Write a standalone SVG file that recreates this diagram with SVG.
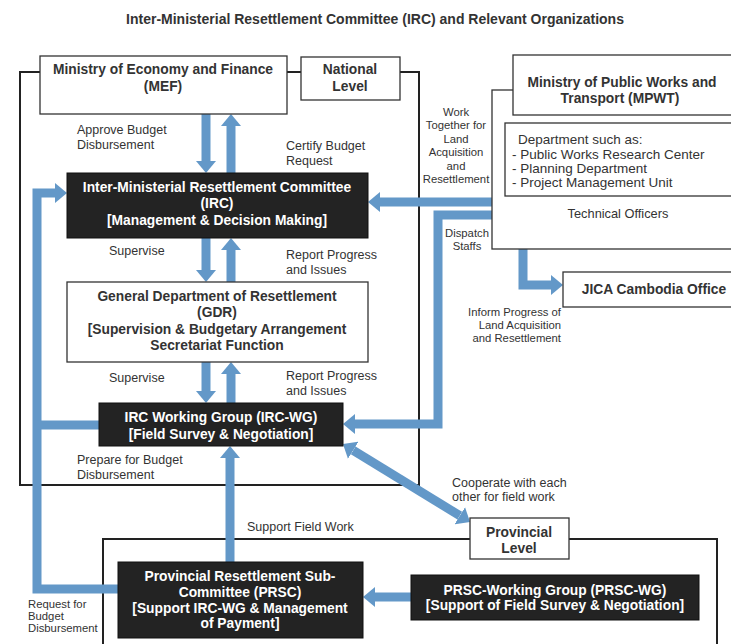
<svg xmlns="http://www.w3.org/2000/svg" width="731" height="644" viewBox="0 0 731 644">
<defs>
<style>
text{font-family:"Liberation Sans",Arial,sans-serif;}
.t{font-size:14px;font-weight:bold;fill:#333;text-anchor:middle;}
.b{font-size:13.8px;font-weight:bold;fill:#333;text-anchor:middle;}
.w{font-size:13.8px;font-weight:bold;fill:#fff;text-anchor:middle;}
.l{font-size:12.5px;fill:#333;}
.s{font-size:11.3px;fill:#333;}
.wb{fill:#fff;stroke:#333;stroke-width:1.3;}
.db{fill:#232323;stroke:#111;stroke-width:1;}
.fr{fill:none;stroke:#222;stroke-width:2;}
.c{fill:none;stroke:#6398c8;stroke-width:9;}
</style>
<marker id="ah" markerUnits="userSpaceOnUse" viewBox="0 0 12 20" refX="0" refY="10" markerWidth="12" markerHeight="20" orient="auto-start-reverse">
<path d="M0,0 L12,10 L0,20 z" fill="#6398c8"/>
</marker>
</defs>
<rect width="731" height="644" fill="#fff"/>
<text class="t" x="375" y="24">Inter-Ministerial Resettlement Committee (IRC) and Relevant Organizations</text>

<g id="frames">
<path class="fr" d="M40,72 L20,72 L20,485 L419,485 L419,72 L400,72 M287,72 L301,72"/>
<path class="fr" d="M470,539 L103,539 L103,644 M569,539 L717,539 L717,644"/>
</g>

<g id="connectors">
<path class="c" d="M206,114 L206,161" marker-end="url(#ah)"/>
<path class="c" d="M231,173 L231,126" marker-end="url(#ah)"/>
<path class="c" d="M206,238 L206,270" marker-end="url(#ah)"/>
<path class="c" d="M231,282 L231,250" marker-end="url(#ah)"/>
<path class="c" d="M206,362 L206,391" marker-end="url(#ah)"/>
<path class="c" d="M231,403 L231,374" marker-end="url(#ah)"/>
<path class="c" d="M118,589 L37,589 L37,193 L55,193" marker-end="url(#ah)"/>
<path class="c" d="M99,425 L37,425"/>
<path class="c" d="M492,202 L380,202" marker-end="url(#ah)"/>
<path class="c" d="M492,215 L438,215 L438,424 L355,424" marker-end="url(#ah)"/>
<path class="c" d="M523,249 L523,285 L551,285" marker-end="url(#ah)"/>
<path class="c" d="M230,562 L230,458" marker-end="url(#ah)"/>
<path class="c" d="M411,597 L375,597" marker-end="url(#ah)"/>
<path class="c" d="M353.2,450.3 L459.8,515.7" marker-start="url(#ah)" marker-end="url(#ah)"/>
</g>

<g id="labels">
<text class="l" x="77" y="134">Approve Budget</text>
<text class="l" x="77" y="149">Disbursement</text>
<text class="l" x="286" y="150">Certify Budget</text>
<text class="l" x="286" y="165">Request</text>
<text class="l" x="109" y="255">Supervise</text>
<text class="l" x="286" y="259">Report Progress</text>
<text class="l" x="286" y="274">and Issues</text>
<text class="l" x="109" y="382">Supervise</text>
<text class="l" x="286" y="380">Report Progress</text>
<text class="l" x="286" y="395">and Issues</text>
<text class="l" x="77" y="464">Prepare for Budget</text>
<text class="l" x="77" y="479">Disbursement</text>
<text class="s" text-anchor="middle"><tspan x="456" y="116">Work</tspan><tspan x="456" y="129">Together for</tspan><tspan x="456" y="143">Land</tspan><tspan x="456" y="156">Acquisition</tspan><tspan x="456" y="170">and</tspan><tspan x="456" y="183">Resettlement</tspan></text>
<text class="s" text-anchor="middle"><tspan x="467" y="237">Dispatch</tspan><tspan x="467" y="250">Staffs</tspan></text>
<text class="s" text-anchor="end"><tspan x="561" y="316">Inform Progress of</tspan><tspan x="561" y="329">Land Acquisition</tspan><tspan x="561" y="342">and Resettlement</tspan></text>
<text class="l" font-size="12"><tspan x="452" y="487">Cooperate with each</tspan><tspan x="452" y="501">other for field work</tspan></text>
<text class="l" x="247" y="531">Support Field Work</text>
<text class="s"><tspan x="28" y="608">Request for</tspan><tspan x="28" y="620">Budget</tspan><tspan x="28" y="632">Disbursement</tspan></text>
</g>

<g id="mef">
<rect class="wb" x="40" y="56" width="247" height="58"/>
<text class="b" x="163" y="74">Ministry of Economy and Finance</text>
<text class="b" x="163" y="91">(MEF)</text>
</g>
<g id="national-level">
<rect class="wb" x="301" y="57" width="99" height="43"/>
<text class="b" x="350" y="74">National</text>
<text class="b" x="350" y="91">Level</text>
</g>
<g id="irc">
<rect class="db" x="67" y="173" width="301" height="65"/>
<text class="w" x="217" y="192">Inter-Ministerial Resettlement Committee</text>
<text class="w" x="217" y="208">(IRC)</text>
<text class="w" x="217" y="225">[Management &amp; Decision Making]</text>
</g>
<g id="gdr">
<rect class="wb" x="67" y="282" width="301" height="80"/>
<text class="b" x="217" y="301">General Department of Resettlement</text>
<text class="b" x="217" y="317">(GDR)</text>
<text class="b" x="217" y="334">[Supervision &amp; Budgetary Arrangement</text>
<text class="b" x="217" y="350">Secretariat Function</text>
</g>
<g id="irc-wg">
<rect class="db" x="99" y="403" width="244" height="43"/>
<text class="w" x="221" y="422">IRC Working Group (IRC-WG)</text>
<text class="w" x="221" y="439">[Field Survey &amp; Negotiation]</text>
</g>
<g id="mpwt">
<rect class="wb" x="492" y="90" width="260" height="159"/>
<rect class="wb" x="513" y="55" width="240" height="60"/>
<text class="b" x="622" y="87">Ministry of Public Works and</text>
<text class="b" x="620" y="103" font-size="12.5">Transport (MPWT)</text>
<rect class="wb" x="505" y="123" width="240" height="73"/>
<text font-size="13.5" fill="#333"><tspan x="518" y="144">Department such as:</tspan><tspan x="512" y="159">- Public Works Research Center</tspan><tspan x="512" y="173">- Planning Department</tspan><tspan x="512" y="187">- Project Management Unit</tspan></text>
<text font-size="12.8" fill="#333" x="618" y="218" text-anchor="middle">Technical Officers</text>
</g>
<g id="jica">
<rect class="wb" x="563" y="272" width="180" height="35"/>
<text class="b" x="654" y="294">JICA Cambodia Office</text>
</g>
<g id="provincial-level">
<rect class="wb" x="470" y="518" width="99" height="41"/>
<text class="b" x="519" y="537">Provincial</text>
<text class="b" x="519" y="553">Level</text>
</g>
<g id="prsc">
<rect class="db" x="118" y="562" width="245" height="76"/>
<text class="w" x="240" y="581">Provincial Resettlement Sub-</text>
<text class="w" x="240" y="597">Committee (PRSC)</text>
<text class="w" x="240" y="613">[Support IRC-WG &amp; Management</text>
<text class="w" x="240" y="628">of Payment]</text>
</g>
<g id="prsc-wg">
<rect class="db" x="411" y="575" width="288" height="45"/>
<text class="w" x="555" y="595">PRSC-Working Group (PRSC-WG)</text>
<text class="w" x="555" y="610">[Support of Field Survey &amp; Negotiation]</text>
</g>
</svg>
